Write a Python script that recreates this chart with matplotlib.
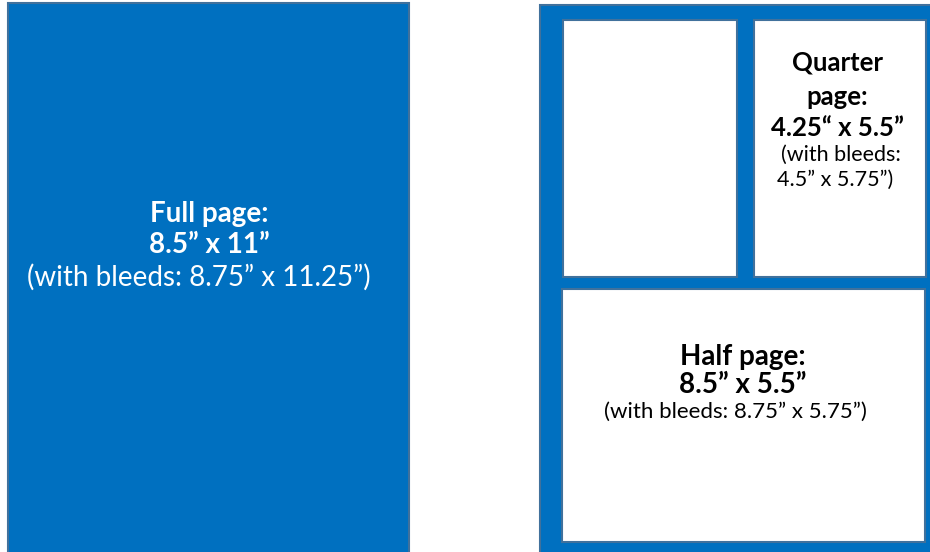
import matplotlib.pyplot as plt
from matplotlib.patches import Rectangle

plt.rcParams['font.family'] = ['Lato', 'DejaVu Sans']

# page layout in pixels: (x0, y0, x1, y1)
blue_boxes = [(8, 3, 409, 560), (540, 5, 940, 560)]
white_boxes = [(563, 20, 737, 277), (754, 20, 926, 277), (562, 289, 925, 542)]

# text: (x, y, string, size, bold, colour)
labels = [
    (209, 214, "Full page:", 20, True, "white"),
    (209, 245, "8.5\u201d x 11\u201d", 20, True, "white"),
    (199, 277, "(with bleeds: 8.75\u201d x 11.25\u201d)", 20, False, "white"),
    (743, 357, "Half page:", 20, True, "black"),
    (743, 385, "8.5\u201d x 5.5\u201d", 20, True, "black"),
    (735, 412, "(with bleeds: 8.75\u201d x 5.75\u201d)", 16, False, "black"),
    (837, 63, "Quarter", 18.5, True, "black"),
    (837, 97, "page:", 18.5, True, "black"),
    (837, 128, "4.25\u201c x 5.5\u201d", 18.5, True, "black"),
    (841, 155, "(with bleeds:", 15.5, False, "black"),
    (835, 180, "4.5\u201d x 5.75\u201d)", 15.5, False, "black"),
]

fig = plt.figure(figsize=(9.3, 5.52), dpi=100)
ax = fig.add_axes([0, 0, 1, 1])
ax.set_xlim(0, 930)
ax.set_ylim(552, 0)
ax.axis('off')

for x0, y0, x1, y1 in blue_boxes:
    ax.add_patch(Rectangle((x0, y0), x1 - x0, y1 - y0, facecolor='#0070C0',
                           edgecolor='#41719C', linewidth=1.5))
for x0, y0, x1, y1 in white_boxes:
    ax.add_patch(Rectangle((x0, y0), x1 - x0, y1 - y0, facecolor='white',
                           edgecolor='#41719C', linewidth=1.5))

for x, y, s, size, bold, color in labels:
    ax.text(x, y, s, fontsize=size, fontweight='bold' if bold else 'normal',
            color=color, ha='center', va='center')

fig.savefig('out.png', dpi=100)
